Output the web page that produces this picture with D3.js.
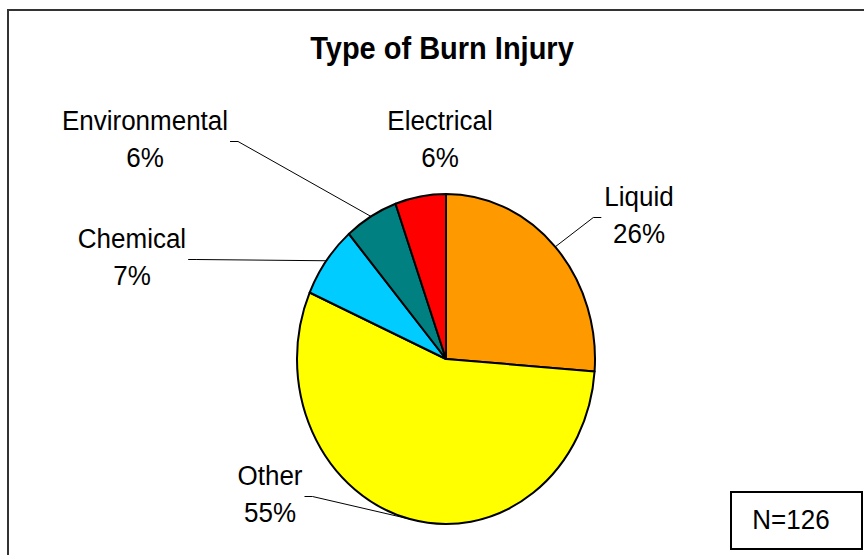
<!DOCTYPE html>
<html>
<head>
<meta charset="utf-8">
<script src="https://d3js.org/d3.v7.min.js"></script>
<style>
  body { margin: 0; background: #fff; }
  text { font-family: "Liberation Sans", Arial, Helvetica, sans-serif; }
</style>
</head>
<body>
<svg id="chart" width="864" height="555"></svg>
<script>
// data (percent shares)
var categories = ["Liquid", "Other", "Chemical", "Environmental", "Electrical"];
var shares     = [26.2, 55.4, 7.1, 5.8, 5.5];
var colors     = ["#ff9900", "#ffff00", "#00ccff", "#008080", "#ff0000"];
var totalN     = 126;

// label layout: centre x, first baseline, which side the leader leaves from
var labelLayout = [
  { x: 639, y: 206, side: "left",  line: true  },
  { x: 270, y: 485, side: "right", line: true  },
  { x: 132, y: 248, side: "right", line: true  },
  { x: 145, y: 130, side: "right", line: true  },
  { x: 440, y: 130, side: "right", line: false }
];

var svg = d3.select("#chart");
var cx = 446, cy = 359, rx = 149, ry = 165;
var ty = 1.07; // text in the original is a bit taller than plain Arial

// frame around the chart area (runs off the right and bottom)
svg.append("rect")
  .attr("x", 8).attr("y", 10)
  .attr("width", 900).attr("height", 600)
  .attr("fill", "#fff")
  .attr("stroke", "#333")
  .attr("stroke-width", 2);

// title
svg.append("text")
  .attr("transform", "translate(442,59) scale(1," + ty + ")")
  .attr("text-anchor", "middle")
  .attr("font-size", "29px")
  .attr("font-weight", "bold")
  .text("Type of Burn Injury");

var pie = d3.pie().sort(null).value(function(d) { return d; });
var arcs = pie(shares);

var arc = d3.arc().innerRadius(0).outerRadius(rx);

// pie is drawn a little taller than wide, like the original
var g = svg.append("g")
  .attr("transform", "translate(" + cx + "," + cy + ") scale(1," + (ry / rx) + ")");

g.selectAll("path")
  .data(arcs)
  .enter().append("path")
    .attr("d", arc)
    .attr("fill", function(d, i) { return colors[i]; })
    .attr("stroke", "#000")
    .attr("stroke-width", 2)
    .attr("stroke-linejoin", "round")
    .attr("vector-effect", "non-scaling-stroke");

// labels
arcs.forEach(function(d, i) {
  var L = labelLayout[i];
  var t = svg.append("text")
    .attr("transform", "translate(" + L.x + "," + L.y + ") scale(1," + ty + ")")
    .attr("text-anchor", "middle")
    .attr("font-size", "26px");
  t.append("tspan").attr("x", 0).attr("y", 0).text(categories[i]);
  t.append("tspan").attr("x", 0).attr("y", 37 / ty).text(Math.round(shares[i]) + "%");

  if (!L.line) return;
  var w = t.node().getBBox().width;
  var mid = (d.startAngle + d.endAngle) / 2;
  var px = cx + rx * Math.sin(mid), py = cy - ry * Math.cos(mid);
  var sx, kx;
  if (L.side === "right") { sx = L.x + w / 2 + 2; kx = sx + 8; }
  else { sx = L.x - w / 2 - 3; kx = sx - 8; }
  var sy = L.y + 11.5;
  svg.append("path")
    .attr("d", d3.line()([[sx, sy], [kx, sy], [px, py]]))
    .attr("fill", "none")
    .attr("stroke", "#000")
    .attr("stroke-width", 1);
});

// N box
svg.append("rect")
  .attr("x", 731).attr("y", 492)
  .attr("width", 131).attr("height", 57)
  .attr("fill", "#fff")
  .attr("stroke", "#000")
  .attr("stroke-width", 2);
svg.append("text")
  .attr("transform", "translate(791,529) scale(1," + ty + ")")
  .attr("text-anchor", "middle")
  .attr("font-size", "26px")
  .text("N=" + totalN);
</script>
</body>
</html>
